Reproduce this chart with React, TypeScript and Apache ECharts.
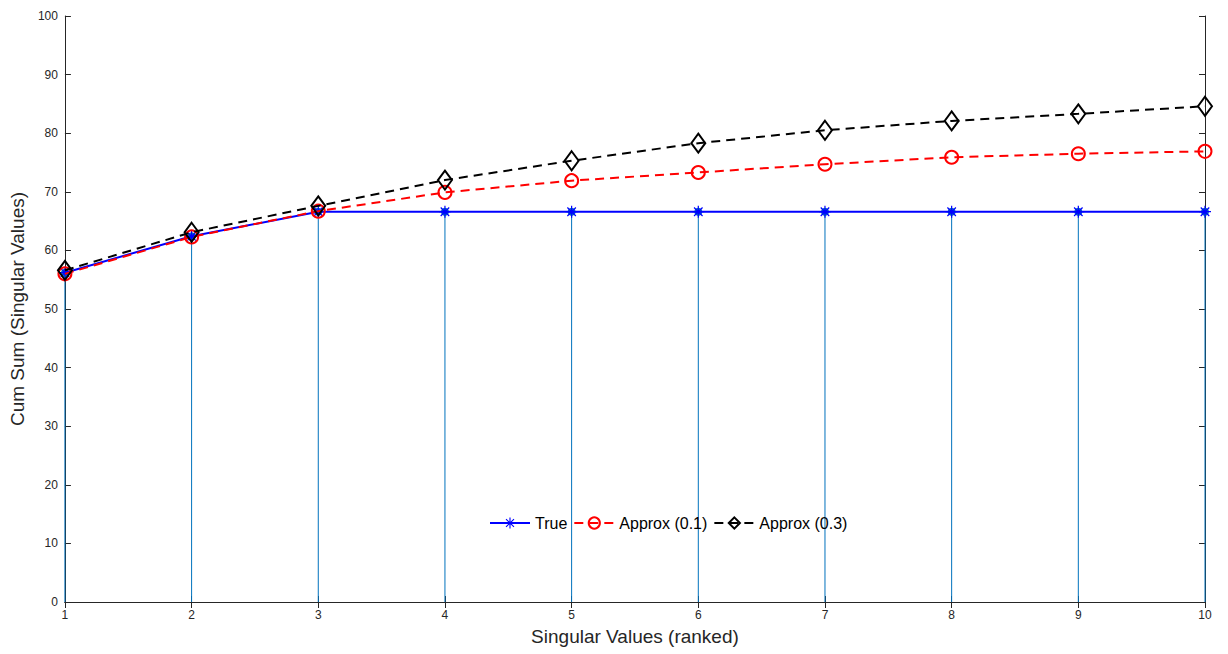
import React, { useEffect, useRef } from "react";
import * as echarts from "echarts";

const ranks = [1, 2, 3, 4, 5, 6, 7, 8, 9, 10];
const trueVals = [56.2, 62.4, 66.6, 66.6, 66.6, 66.6, 66.6, 66.6, 66.6, 66.6];
const approx01 = [56.0, 62.3, 66.7, 69.9, 71.9, 73.3, 74.7, 75.9, 76.5, 76.9];
const approx03 = [56.6, 63.1, 67.6, 72.0, 75.3, 78.3, 80.5, 82.1, 83.3, 84.6];
const seriesNames = ["True", "Approx (0.1)", "Approx (0.3)"];
const xName = "Singular Values (ranked)";
const yName = "Cum Sum (Singular Values)";

const asterisk =
  "path://M0 9 H20 V11 H0 Z M9 0 H11 V20 H9 Z M2.2 3.6 L3.6 2.2 L17.8 16.4 L16.4 17.8 Z M16.4 2.2 L17.8 3.6 L3.6 17.8 L2.2 16.4 Z";

const FONT = "'Liberation Sans', Arial, sans-serif";
const TXT = "#262626";

export default function App() {
  const ref = useRef<HTMLDivElement>(null);
  useEffect(() => {
    if (!ref.current) return;
    const chart = echarts.init(ref.current, null, { renderer: "svg" });
    const pts = (ys: number[]) => ranks.map((x, i) => [x, ys[i]]);
    const axisCommon = {
      type: "value" as const,
      splitLine: { show: false },
      axisLine: { show: true, lineStyle: { color: TXT, width: 1 } },
      axisTick: { show: true, inside: true, length: 6, lineStyle: { color: TXT } },
    };
    chart.setOption({
      animation: false,
      backgroundColor: "#fff",
      textStyle: { fontFamily: FONT, color: TXT },
      grid: { left: 62, right: 23, top: 16, bottom: 52, containLabel: false },
      xAxis: [
        {
          ...axisCommon,
          min: 1,
          max: 10,
          interval: 1,
          position: "bottom",
          name: xName,
          nameLocation: "middle",
          nameGap: 25,
          nameTextStyle: { fontSize: 19, color: TXT, fontFamily: FONT },
          axisLabel: { fontSize: 12, color: TXT, margin: 7, fontFamily: FONT },
        },
        {
          ...axisCommon,
          min: 1,
          max: 10,
          interval: 1,
          position: "top",
          axisLabel: { show: false },
        },
      ],
      yAxis: [
        {
          ...axisCommon,
          min: 0,
          max: 100,
          interval: 10,
          position: "left",
          name: yName,
          nameLocation: "middle",
          nameGap: 27,
          nameTextStyle: { fontSize: 19, color: TXT, fontFamily: FONT },
          axisLabel: { fontSize: 12, color: TXT, margin: 7, fontFamily: FONT },
        },
        {
          ...axisCommon,
          min: 0,
          max: 100,
          interval: 10,
          position: "right",
          axisLabel: { show: false },
        },
      ],
      legend: {
        left: 484,
        top: 510,
        itemWidth: 40,
        itemHeight: 14,
        itemGap: 6,
        data: seriesNames,
        textStyle: { fontSize: 16, color: "#000", fontFamily: FONT },
        backgroundColor: "transparent",
      },
      series: [
        {
          type: "custom",
          name: "stem",
          silent: true,
          z: 1,
          data: pts(trueVals),
          renderItem: (params: any, api: any) => {
            const x = api.value(0);
            const y = api.value(1);
            const top = api.coord([x, y]);
            const bot = api.coord([x, 0]);
            return {
              type: "group",
              children: [
                {
                  type: "line",
                  shape: { x1: top[0], y1: top[1], x2: bot[0], y2: bot[1] },
                  style: { stroke: "#0072BD", lineWidth: 1 },
                },
                {
                  type: "circle",
                  shape: { cx: top[0], cy: top[1], r: 4 },
                  style: { fill: "#0072BD" },
                },
              ],
            };
          },
        },
        {
          type: "line",
          name: seriesNames[0],
          z: 3,
          data: pts(trueVals),
          symbol: asterisk,
          symbolSize: 12,
          showAllSymbol: true,
          lineStyle: { color: "#0000FF", width: 2 },
          itemStyle: { color: "#0000FF" },
        },
        {
          type: "line",
          name: seriesNames[1],
          z: 4,
          data: pts(approx01),
          symbol: "circle",
          symbolSize: 13,
          showAllSymbol: true,
          lineStyle: { color: "#FF0000", width: 2, type: [9, 6] },
          itemStyle: { color: "rgba(255,255,255,0)", borderWidth: 2, borderColor: "#FF0000" },
        },
        {
          type: "line",
          name: seriesNames[2],
          z: 5,
          data: pts(approx03),
          symbol: "diamond",
          symbolSize: [14, 19],
          showAllSymbol: true,
          lineStyle: { color: "#000000", width: 2, type: [9, 6] },
          itemStyle: { color: "rgba(255,255,255,0)", borderWidth: 2, borderColor: "#000000" },
        },
      ],
    });
    return () => chart.dispose();
  }, []);
  return (
    <div
      ref={ref}
      style={{ position: "fixed", left: 0, top: 0, width: 1228, height: 654, background: "#fff" }}
    />
  );
}
